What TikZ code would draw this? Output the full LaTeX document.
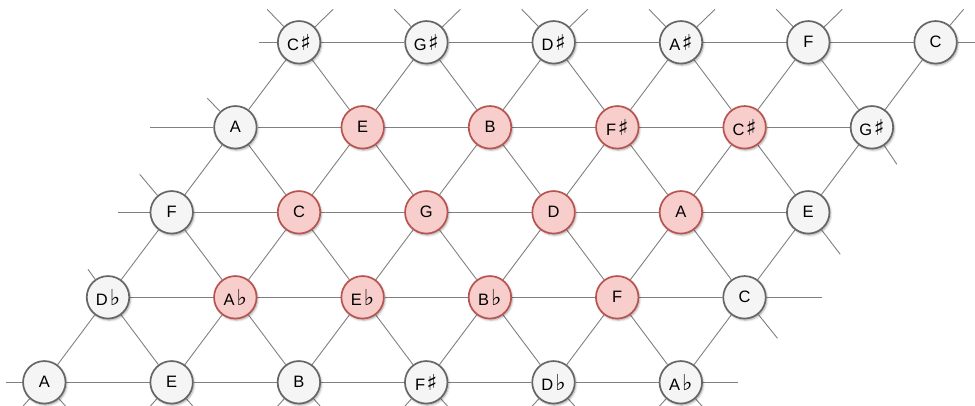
\documentclass[tikz,border=0pt]{standalone}
\usepackage{fontspec}
\setmainfont{Liberation Sans}
\newfontfamily\accfont{DejaVu Sans}
\usetikzlibrary{shadows.blur,backgrounds}

\newcommand{\noteSharp}{\hspace{1.5pt}{\accfont\fontsize{22}{18}\selectfont ♯}}
\newcommand{\noteFlat}{\hspace{2pt}{\accfont\fontsize{22}{18}\selectfont ♭}}

\definecolor{ringgray}{HTML}{666666}
\definecolor{fillgray}{HTML}{F5F5F5}
\definecolor{ringred}{HTML}{B85450}
\definecolor{fillred}{HTML}{F8CECC}
\definecolor{linkgray}{HTML}{808080}

\begin{document}
\begin{tikzpicture}[x=1pt,y=-1pt,
  note/.style={circle, minimum size=42.5pt, inner sep=0pt, line width=1.7pt,
    font=\fontsize{16.5}{18}\selectfont,
    blur shadow={shadow xshift=1.2pt, shadow yshift=-1.6pt,
      shadow blur radius=2pt, shadow opacity=35}},
  plain/.style={note, draw=ringgray, fill=fillgray},
  lit/.style={note, draw=ringred, fill=fillred},
  link/.style={draw=linkgray, line width=0.9pt}]

\useasboundingbox (0,0) rectangle (975,405);
\clip (0,0) rectangle (975,405);

% five rows of the lattice, six notes each
\foreach \s/\t [count=\u from 0] in {plain/C\noteSharp, plain/G\noteSharp, plain/D\noteSharp, plain/A\noteSharp, plain/F, plain/C}
  \node[\s] (n0\u) at ({299.1+127.3*\u}, 42.3) {\t};
\foreach \s/\t [count=\u from 0] in {plain/A, lit/E, lit/B, lit/F\noteSharp, lit/C\noteSharp, plain/G\noteSharp}
  \node[\s] (n1\u) at ({235.4+127.3*\u}, 127.3) {\t};
\foreach \s/\t [count=\u from 0] in {plain/F, lit/C, lit/G, lit/D, lit/A, plain/E}
  \node[\s] (n2\u) at ({171.7+127.3*\u}, 212.3) {\t};
\foreach \s/\t [count=\u from 0] in {plain/D\noteFlat, lit/A\noteFlat, lit/E\noteFlat, lit/B\noteFlat, lit/F, plain/C}
  \node[\s] (n3\u) at ({108.0+127.3*\u}, 297.3) {\t};
\foreach \s/\t [count=\u from 0] in {plain/A, plain/E, plain/B, plain/F\noteSharp, plain/D\noteFlat, plain/A\noteFlat}
  \node[\s] (n4\u) at ({44.3+127.3*\u}, 382.3) {\t};

\begin{pgfonlayer}{background}
  % horizontal rows
  \foreach \r in {0,...,4}
    \draw[link] (n\r0) -- (n\r1) -- (n\r2) -- (n\r3) -- (n\r4) -- (n\r5);
  % diagonals between neighbouring rows
  \foreach \r [evaluate=\r as \p using int(\r-1)] in {1,...,4} {
    \foreach \u in {0,...,5}
      \draw[link] (n\r\u) -- (n\p\u);
    \foreach \u [evaluate=\u as \v using int(\u-1)] in {1,...,5}
      \draw[link] (n\r\u) -- (n\p\v);
  }
  % open ends of the lattice
  \draw[link] (n00) -- ++(-40,0);
  \draw[link] (n05) -- ++(40,0);
  \draw[link] (n10) -- ++(-85,0);
  \draw[link] (n20) -- ++(-54,0);
  \draw[link] (n35) -- ++(77,0);
  \draw[link] (n40) -- ++(-38,0);
  \draw[link] (n45) -- ++(57,0);
  \foreach \u in {0,...,4} {
    \draw[link] (n0\u) -- ++(-32,-33);
    \draw[link] (n0\u) -- ++(34,-33);
  }
  \draw[link] (n05) -- ++(28,-33);
  \draw[link] (n10) -- ++(-28,-29);
  \draw[link] (n20) -- ++(-32,-38);
  \draw[link] (n30) -- ++(-20,-28);
  \draw[link] (n15) -- ++(25,37);
  \draw[link] (n25) -- ++(32,42);
  \draw[link] (n35) -- ++(33,41);
  \foreach \u in {0,...,5} {
    \draw[link] (n4\u) -- ++(-25,28);
    \draw[link] (n4\u) -- ++(25,28);
  }
\end{pgfonlayer}
\end{tikzpicture}
\end{document}
